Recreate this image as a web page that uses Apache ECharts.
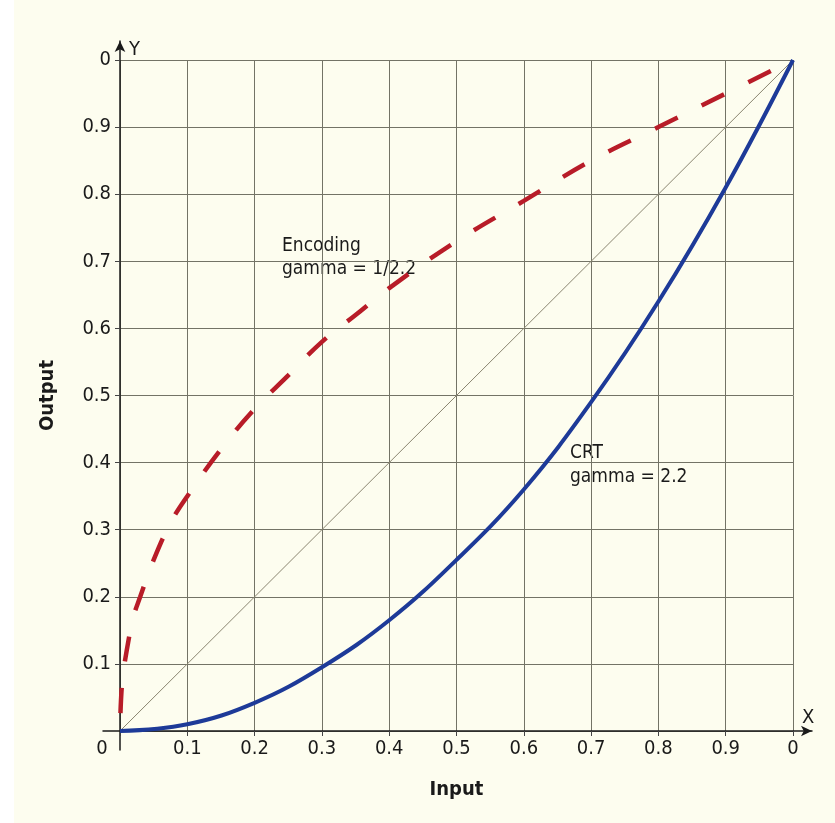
<!DOCTYPE html>
<html><head><meta charset="utf-8">
<script src="https://cdn.jsdelivr.net/npm/echarts@6/dist/echarts.min.js"></script>
<style>html,body{margin:0;padding:0;background:#fff}#c{width:835px;height:823px}</style>
</head><body><div id="c"></div>
<script>
// tick labels (as printed in the reference)
const xTickLabels = ['0','0.1','0.2','0.3','0.4','0.5','0.6','0.7','0.8','0.9','0'];
const yTickLabels = ['0','0.1','0.2','0.3','0.4','0.5','0.6','0.7','0.8','0.9','0'];
// Encoding curve (dashed red)
const encX = [0, 0.003, 0.01, 0.02, 0.03, 0.05, 0.075, 0.1, 0.15, 0.2, 0.25, 0.3, 0.35, 0.4, 0.5, 0.6, 0.7, 0.8, 0.9, 1];
const encY = [0, 0.07, 0.12, 0.17, 0.20, 0.255, 0.31, 0.35, 0.42, 0.48, 0.53, 0.58, 0.62, 0.66, 0.73, 0.79, 0.85, 0.90, 0.95, 1.0];
// CRT curve (solid blue)
const crtX = [0, 0.1, 0.2, 0.3, 0.4, 0.5, 0.6, 0.7, 0.8, 0.9, 1];
const crtY = [0, 0.01, 0.042, 0.095, 0.165, 0.255, 0.36, 0.49, 0.64, 0.81, 1];
// reference diagonal
const diagX = [0, 1];
const diagY = [0, 1];

const FONT = '"Liberation Sans Narrow","DejaVu Sans Condensed","Roboto Condensed","Arial Narrow",sans-serif';
const chart = echarts.init(document.getElementById('c'), null, {renderer:'canvas'});
const zip = (a,b)=>a.map((v,i)=>[v,b[i]]);
const gridCol = '#737366';
chart.setOption({
  backgroundColor: '#fff',
  animation: false,
  graphic: [
    {type:'rect', z:-10, shape:{x:14,y:0,width:821,height:823}, style:{fill:'#fdfdef'}},
    {type:'text', left:282, top:235, style:{text:'Encoding\ngamma = 1/2.2', font:'19px '+FONT, fill:'#1a1a1a', lineHeight:23}},
    {type:'text', left:570, top:441, style:{text:'CRT\ngamma = 2.2', font:'19px '+FONT, fill:'#1a1a1a', lineHeight:24}},
    {type:'text', left:129, top:40, style:{text:'Y', font:'20px '+FONT, fill:'#1a1a1a'}},
    {type:'text', left:802, top:708, style:{text:'X', font:'20px '+FONT, fill:'#1a1a1a'}}
  ],
  grid: [
    {left:120, right:42, top:60, bottom:92},
    {left:103, right:23, top:41, bottom:73}
  ],
  xAxis: [
    {gridIndex:0, type:'value', min:0, max:1, interval:0.1,
     name:'Input', nameLocation:'middle', nameGap:49,
     nameTextStyle:{fontFamily:FONT, fontWeight:'bold', fontSize:20, color:'#1a1a1a'},
     axisLine:{show:false},
     axisTick:{show:true, length:5, lineStyle:{color:'#444'}},
     splitLine:{show:true, lineStyle:{color:gridCol, width:1}},
     axisLabel:{margin:8, fontFamily:FONT, fontSize:20, color:'#1a1a1a',
       formatter:v=>{const i=Math.round(v*10); return i===0?'{o|'+xTickLabels[i]+'}':xTickLabels[i];},
       rich:{o:{fontFamily:FONT, fontSize:20, color:'#1a1a1a', padding:[0,36,0,0]}}}},
    {gridIndex:1, type:'value', min:-0.02526, max:1.0282,
     axisLine:{show:true, onZero:true, lineStyle:{color:'#1a1a1a', width:1.5}, symbol:['none','arrow'], symbolSize:[8,11]},
     axisTick:{show:false}, axisLabel:{show:false}, splitLine:{show:false}}
  ],
  yAxis: [
    {gridIndex:0, type:'value', min:0, max:1, interval:0.1,
     name:'Output', nameLocation:'middle', nameGap:62,
     nameTextStyle:{fontFamily:FONT, fontWeight:'bold', fontSize:20, color:'#1a1a1a'},
     axisLine:{show:false},
     axisTick:{show:true, length:5, lineStyle:{color:'#444'}},
     splitLine:{show:true, lineStyle:{color:gridCol, width:1}},
     axisLabel:{margin:9, showMinLabel:false, fontFamily:FONT, fontSize:20, color:'#1a1a1a',
       formatter:v=>yTickLabels[Math.round(v*10)]}},
    {gridIndex:1, type:'value', min:-0.02836, max:1.0299,
     axisLine:{show:true, onZero:true, lineStyle:{color:'#1a1a1a', width:1.5}, symbol:['none','arrow'], symbolSize:[8,11]},
     axisTick:{show:false}, axisLabel:{show:false}, splitLine:{show:false}}
  ],
  series: [
    {type:'line', xAxisIndex:0, yAxisIndex:0, data:zip(diagX,diagY), showSymbol:false,
     lineStyle:{color:'#8a8570', width:1}},
    {type:'line', xAxisIndex:0, yAxisIndex:0, data:zip(crtX,crtY), showSymbol:false, smooth:0.4,
     lineStyle:{color:'#1d3a98', width:4}},
    {type:'line', xAxisIndex:0, yAxisIndex:0, data:zip(encX,encY), showSymbol:false, smooth:0.4,
     lineStyle:{color:'#b81c28', width:4.5, type:[25,27], dashOffset:-18, cap:'butt'}}
  ]
});
</script></body></html>
